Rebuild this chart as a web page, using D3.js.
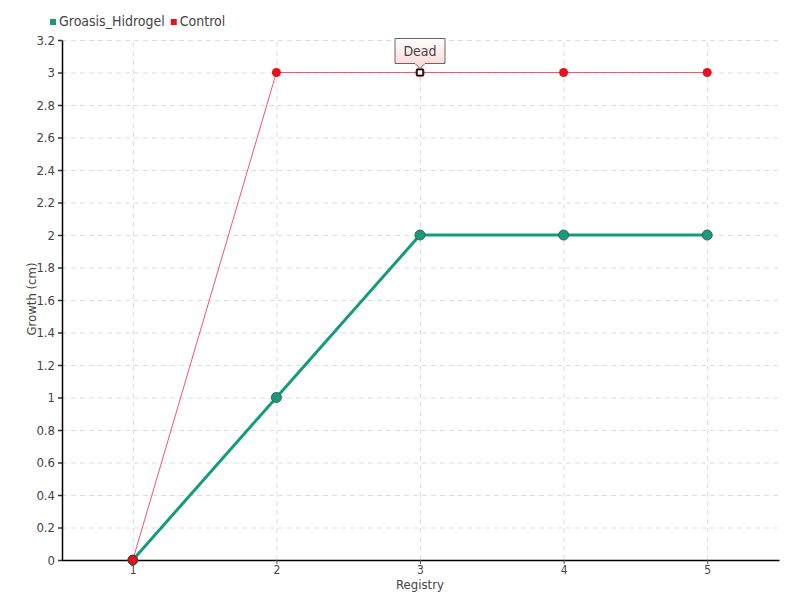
<!DOCTYPE html>
<html>
<head>
<meta charset="utf-8">
<script src="https://cdn.jsdelivr.net/npm/d3@7"></script>
<style>
  body { margin: 0; background: #fff; }
  svg text { font-family: "DejaVu Sans", sans-serif; font-stretch: condensed; fill: #444; }
  .grid line { stroke: #ddd; stroke-dasharray: 5,4; }
  .grid path { display: none; }
</style>
</head>
<body>
<div id="chart"></div>
<script>
var registry = [1, 2, 3, 4, 5];
var hidrogel = [0, 1, 2, 2, 2];
var control = [0, 3, 3, 3, 3];
var yTicks = [0, 0.2, 0.4, 0.6, 0.8, 1, 1.2, 1.4, 1.6, 1.8, 2, 2.2, 2.4, 2.6, 2.8, 3, 3.2];
var deadIndex = 2;

var margin = {top: 40, right: 20, bottom: 40, left: 62},
    width = 800 - margin.left - margin.right,
    height = 600 - margin.top - margin.bottom;

var svg = d3.select("#chart").append("svg")
    .attr("width", 800)
    .attr("height", 600)
    .append("g")
    .attr("transform", "translate(" + margin.left + "," + margin.top + ")");

var x = d3.scalePoint().domain(registry).range([-1, width - 1]).padding(0.5);
var y = d3.scaleLinear().domain([0, 3.2]).range([height, 0]);

// grid
svg.append("g")
    .attr("class", "grid")
    .attr("transform", "translate(0," + height + ")")
    .call(d3.axisBottom(x).tickSize(-height).tickFormat(""));

svg.append("g")
    .attr("class", "grid")
    .call(d3.axisLeft(y).tickValues(yTicks).tickSize(-width).tickFormat(""));

// axes
var xAxis = svg.append("g")
    .attr("transform", "translate(0," + height + ")")
    .call(d3.axisBottom(x).tickSize(4).tickPadding(1).tickSizeOuter(0));
xAxis.select(".domain").attr("stroke", "#000").attr("stroke-width", 1.5);
xAxis.selectAll(".tick line").attr("stroke", "#555");
xAxis.selectAll("text").style("font-size", "12px").attr("fill", "#444");

var yAxis = svg.append("g")
    .call(d3.axisLeft(y).tickValues(yTicks).tickSize(4).tickPadding(3).tickSizeOuter(0)
        .tickFormat(function (d) { return d3.format("")(+d.toFixed(1)); }));
yAxis.select(".domain").attr("stroke", "#000").attr("stroke-width", 1.5);
yAxis.selectAll(".tick line").attr("stroke", "#333").attr("stroke-width", 1.5);
yAxis.selectAll("text").style("font-size", "13px").attr("fill", "#444");

// axis titles
svg.append("text")
    .attr("x", width / 2 - 1)
    .attr("y", height + 29)
    .style("text-anchor", "middle")
    .style("font-size", "13px")
    .text("Registry");

svg.append("text")
    .attr("transform", "rotate(-90)")
    .attr("x", -height / 2 + 1)
    .attr("y", -26)
    .style("text-anchor", "middle")
    .style("font-size", "13px")
    .text("Growth (cm)");

var hData = registry.map(function (r, i) { return {r: r, v: hidrogel[i]}; });
var cData = registry.map(function (r, i) { return {r: r, v: control[i]}; });

var line = d3.line()
    .x(function (d) { return x(d.r); })
    .y(function (d) { return y(d.v); });

svg.append("path")
    .datum(hData)
    .attr("fill", "none")
    .attr("stroke", "#169b7c")
    .attr("stroke-width", 3)
    .attr("d", line);

svg.append("path")
    .datum(cData)
    .attr("fill", "none")
    .attr("stroke", "#f2566a")
    .attr("stroke-width", 1)
    .attr("d", line);

svg.selectAll(".hdot")
    .data(hData)
    .enter().append("circle")
    .attr("r", 5)
    .attr("fill", "#1a9a7a")
    .attr("stroke", "#2b6b58")
    .attr("stroke-width", 1)
    .attr("cx", function (d) { return x(d.r); })
    .attr("cy", function (d) { return y(d.v); });

svg.selectAll(".cdot")
    .data(cData.filter(function (d, i) { return i !== deadIndex; }))
    .enter().append("circle")
    .attr("r", 4.5)
    .attr("fill", "#e8101e")
    .attr("stroke", function (d) { return d.r === 1 ? "#6b2a2a" : "none"; })
    .attr("cx", function (d) { return x(d.r); })
    .attr("cy", function (d) { return y(d.v); });

// "Dead" marker
var dead = cData[deadIndex];
var dx = x(dead.r), dy = y(dead.v);
svg.append("circle")
    .attr("cx", dx).attr("cy", dy).attr("r", 5)
    .attr("fill", "#e8101e").attr("opacity", 0.6);
svg.append("rect")
    .attr("x", dx - 3).attr("y", dy - 3)
    .attr("width", 6).attr("height", 6)
    .attr("fill", "#fff").attr("stroke", "#000").attr("stroke-width", 1.5);

var defs = d3.select("svg").append("defs");
var grad = defs.append("linearGradient")
    .attr("id", "tipgrad").attr("x1", 0).attr("y1", 0).attr("x2", 0).attr("y2", 1);
grad.append("stop").attr("offset", "0%").attr("stop-color", "#ffffff");
grad.append("stop").attr("offset", "100%").attr("stop-color", "#fbd4d4");

var tw = 50, th = 25, ty = dy - 34;
svg.append("path")
    .attr("d", "M" + (dx - tw / 2) + "," + ty +
        "h" + tw + "v" + th + "h" + (-(tw / 2 - 5)) +
        "l-5,5l-5,-5h" + (-(tw / 2 - 5)) + "z")
    .attr("fill", "url(#tipgrad)")
    .attr("stroke", "#666")
    .attr("stroke-width", 1);
svg.append("text")
    .attr("x", dx)
    .attr("y", ty + 17)
    .style("text-anchor", "middle")
    .style("font-size", "14px")
    .text("Dead");

// legend
var legend = d3.select("svg").append("g");
var items = [{name: "Groasis_Hidrogel", color: "#1a9a7a"}, {name: "Control", color: "#e8101e"}];
var lx = 50;
items.forEach(function (it) {
    legend.append("rect")
        .attr("x", lx).attr("y", 19)
        .attr("width", 6).attr("height", 6)
        .attr("fill", it.color);
    var t = legend.append("text")
        .attr("x", lx + 9).attr("y", 26)
        .style("font-size", "14px")
        .text(it.name);
    lx += 9 + t.node().getComputedTextLength() + 6;
});
</script>
</body>
</html>
